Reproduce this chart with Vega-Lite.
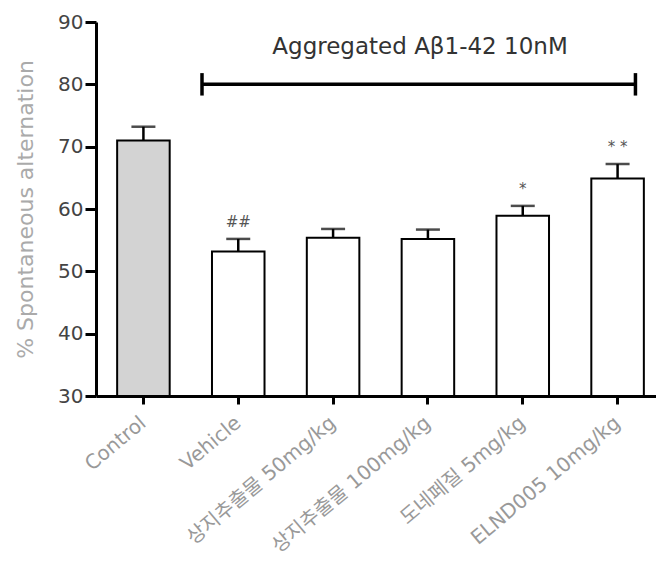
{
  "$schema": "https://vega.github.io/schema/vega-lite/v6.json",
  "autosize": {"type": "none"},
  "width": 560,
  "height": 374,
  "padding": {"left": 96, "top": 22, "right": 0, "bottom": 188},
  "background": "white",
  "config": {
    "view": {"stroke": null},
    "font": "DejaVu Sans, Noto Sans CJK KR",
    "axis": {"grid": false, "domainColor": "black", "tickColor": "black"}
  },
  "datasets": {
    "groups": [
      {"group": "Control", "mean": 71.0, "upper": 73.2, "sig": ""},
      {"group": "Vehicle", "mean": 53.2, "upper": 55.2, "sig": "##"},
      {"group": "상지추출물 50mg/kg", "mean": 55.4, "upper": 56.8, "sig": ""},
      {"group": "상지추출물 100mg/kg", "mean": 55.2, "upper": 56.7, "sig": ""},
      {"group": "도네페질 5mg/kg", "mean": 58.9, "upper": 60.5, "sig": "*"},
      {"group": "ELND005 10mg/kg", "mean": 64.9, "upper": 67.2, "sig": "* *"}
    ],
    "treatment": [
      {"from": "Vehicle", "to": "ELND005 10mg/kg", "level": 80, "label": "Aggregated Aβ1-42 10nM", "labelAt": "상지추출물 100mg/kg", "labelLevel": 86}
    ]
  },
  "layer": [
    {
      "data": {"name": "groups"},
      "mark": {"type": "rule", "strokeWidth": 2.5, "color": "black"},
      "encoding": {
        "x": {
          "field": "group",
          "type": "nominal",
          "sort": null,
          "scale": {
            "domain": ["Control", "Vehicle", "상지추출물 50mg/kg", "상지추출물 100mg/kg", "도네페질 5mg/kg", "ELND005 10mg/kg"],
            "range": [0, 569],
            "paddingInner": 0.446,
            "paddingOuter": 0.223
          },
          "axis": {
            "title": null,
            "labelAngle": -40,
            "labelAlign": "right",
            "labelBaseline": "middle",
            "labelFontSize": 20,
            "labelColor": "#999999",
            "labelPadding": 16,
            "labelLimit": 0,
            "tickSize": 8,
            "tickWidth": 3,
            "domainWidth": 3
          }
        },
        "y": {
          "field": "mean",
          "type": "quantitative",
          "scale": {"domain": [30, 90], "zero": false, "nice": false},
          "axis": {
            "values": [30, 40, 50, 60, 70, 80, 90],
            "title": "% Spontaneous alternation",
            "titleFontSize": 22,
            "titleFontWeight": "normal",
            "titleColor": "#aaaaaa",
            "titlePadding": 20,
            "labelFontSize": 20,
            "labelColor": "#444444",
            "labelPadding": 2,
            "tickSize": 11,
            "tickWidth": 3,
            "domainWidth": 3
          }
        },
        "y2": {"field": "upper"}
      }
    },
    {
      "data": {"name": "groups"},
      "mark": {"type": "tick", "thickness": 2.5, "size": 24, "color": "black"},
      "encoding": {
        "x": {"field": "group", "type": "nominal", "sort": null},
        "y": {"field": "upper", "type": "quantitative"}
      }
    },
    {
      "data": {"name": "groups"},
      "mark": {"type": "bar", "stroke": "black", "strokeWidth": 2},
      "encoding": {
        "x": {"field": "group", "type": "nominal", "sort": null},
        "y": {"field": "mean", "type": "quantitative"},
        "y2": {"datum": 30},
        "fill": {
          "condition": {"test": "datum.group === 'Control'", "value": "#d3d3d3"},
          "value": "white"
        }
      }
    },
    {
      "data": {"name": "groups"},
      "mark": {"type": "text", "dy": -17, "fontSize": 15, "color": "#555555", "baseline": "middle"},
      "encoding": {
        "x": {"field": "group", "type": "nominal", "sort": null},
        "y": {"field": "upper", "type": "quantitative"},
        "text": {"field": "sig"}
      }
    },
    {
      "data": {"name": "treatment"},
      "mark": {"type": "rule", "strokeWidth": 3.5, "color": "black"},
      "encoding": {
        "x": {"field": "from", "type": "nominal", "bandPosition": -0.19},
        "x2": {"field": "to", "bandPosition": 0.84},
        "y": {"field": "level", "type": "quantitative"}
      }
    },
    {
      "data": {"name": "treatment"},
      "mark": {"type": "rule", "strokeWidth": 3.5, "color": "black"},
      "encoding": {
        "x": {"field": "from", "type": "nominal", "bandPosition": -0.19},
        "y": {"datum": 78.2},
        "y2": {"datum": 81.8}
      }
    },
    {
      "data": {"name": "treatment"},
      "mark": {"type": "rule", "strokeWidth": 3.5, "color": "black"},
      "encoding": {
        "x": {"field": "to", "type": "nominal", "bandPosition": 0.84},
        "y": {"datum": 78.2},
        "y2": {"datum": 81.8}
      }
    },
    {
      "data": {"name": "treatment"},
      "mark": {"type": "text", "fontSize": 23, "color": "#333333", "baseline": "middle", "align": "center"},
      "encoding": {
        "x": {"field": "labelAt", "type": "nominal", "bandPosition": 0.35},
        "y": {"field": "labelLevel", "type": "quantitative"},
        "text": {"field": "label"}
      }
    }
  ]
}
